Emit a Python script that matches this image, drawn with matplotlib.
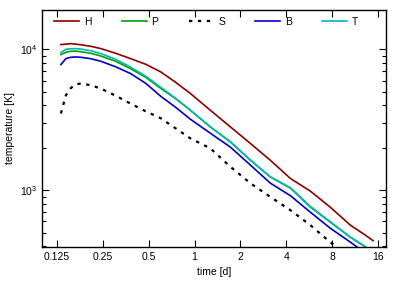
import numpy as np
import matplotlib.pyplot as plt
from matplotlib.ticker import FixedLocator, FixedFormatter, LogLocator, NullLocator

plt.rcParams['font.family'] = ['Liberation Sans', 'DejaVu Sans']
plt.rcParams['mathtext.default'] = 'regular'

# time [d]
t = [0.133, 0.1435, 0.154, 0.166, 0.18, 0.209, 0.243, 0.304, 0.38, 0.478, 0.60,
     0.75, 0.94, 1.27, 1.72, 2.33, 3.14, 4.25, 5.74, 7.76, 10.5, 13.2, 14.8]

# temperature [K]
H = [10800, 10870, 10970, 10870, 10760, 10500, 10110, 9370, 8590, 7830, 6910,
     5840, 4850, 3690, 2810, 2140, 1630, 1211, 985, 757, 565, 479, 438]
P = [9170, 9520, 9680, 9700, 9600, 9370, 8960, 8220, 7290, 6330, 5280,
     4470, 3690, 2810, 2200, 1630, 1241, 1040, 765, 595, 464, 396, 363]
S = [3500, 4720, 5280, 5650, 5710, 5560, 5260, 4680, 4120, 3630, 3240,
     2750, 2330, 1980, 1464, 1117, 896, 721, 565, 427, 330, 271, 245]
B = [7790, 8590, 8770, 8820, 8770, 8570, 8220, 7510, 6730, 5740, 4640,
     3880, 3188, 2535, 2018, 1503, 1122, 914, 698, 537, 428, 357, 324]
T = [9480, 10000, 10080, 10110, 10030, 9760, 9320, 8490, 7480, 6440, 5370,
     4490, 3690, 2810, 2200, 1630, 1241, 1032, 757, 593, 464, 396, 363]

xticks = [0.125, 0.25, 0.5, 1, 2, 4, 8, 16]
xticklabels = ['0.125', '0.25', '0.5', '1', '2', '4', '8', '16']

fig = plt.figure(figsize=(4.07, 2.84), dpi=100)
ax = fig.add_axes([0.1032, 0.1303, 0.8452, 0.8345])

ax.plot(t, H, color='#8b0000', lw=1.2, label='H')
ax.plot(t, P, color='#00a000', lw=1.2, label='P')
ax.plot(t, S, color='black', lw=1.6, ls=(0, (1.5, 2.5)), label='S')
ax.plot(t, B, color='#0000c8', lw=1.2, label='B')
ax.plot(t, T, color='#00b8b8', lw=1.2, label='T')

ax.set_xscale('log', base=2)
ax.set_yscale('log')
ax.set_xlim(0.1, 18)
ax.set_ylim(395, 19000)

ax.xaxis.set_major_locator(FixedLocator(xticks))
ax.xaxis.set_major_formatter(FixedFormatter(xticklabels))
ax.xaxis.set_minor_locator(NullLocator())
ax.yaxis.set_major_locator(LogLocator(base=10))
ax.yaxis.set_minor_locator(LogLocator(base=10, subs=np.arange(2, 10)))

ax.tick_params(which='both', direction='in', top=True, right=True, labelsize=7.5, width=0.8)
ax.tick_params(which='major', length=5)
ax.tick_params(which='minor', length=3)
for s in ax.spines.values():
    s.set_linewidth(1.0)

ax.set_xlabel('time [d]', fontsize=7.5, labelpad=4)
ax.set_ylabel('temperature [K]', fontsize=7.5, labelpad=3)

ax.legend(loc='upper left', ncol=5, frameon=False, fontsize=7.5,
          handlelength=2.4, columnspacing=2.9, handletextpad=0.45,
          borderpad=0, borderaxespad=0, bbox_to_anchor=(0.036, 0.972))

fig.savefig('out.png', dpi=100)
